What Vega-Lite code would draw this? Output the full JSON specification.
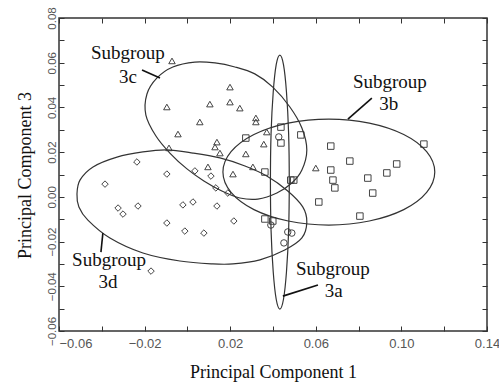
{
  "$schema": "https://vega.github.io/schema/vega-lite/v6.json",
  "width": 428,
  "height": 313,
  "autosize": {"type": "none"},
  "padding": {"left": 59, "top": 18, "right": 12, "bottom": 52},
  "background": "white",
  "config": {
    "view": {"stroke": "#333", "strokeWidth": 1.5},
    "axis": {"grid": false, "domain": false, "tickColor": "#333", "tickWidth": 1}
  },
  "datasets": {
    "pts": [
      {"g":"3c","x":-0.0072,"y":0.0608},{"g":"3c","x":0.0199,"y":0.0491},{"g":"3c","x":0.0105,"y":0.0415},{"g":"3c","x":0.0199,"y":0.0424},{"g":"3c","x":0.0245,"y":0.0397},{"g":"3c","x":-0.0096,"y":0.0402},{"g":"3c","x":0.0058,"y":0.0335},{"g":"3c","x":-0.0044,"y":0.0281},{"g":"3c","x":0.0138,"y":0.0245},{"g":"3c","x":0.0129,"y":0.0223},{"g":"3c","x":0.0152,"y":0.0196},{"g":"3c","x":-0.0086,"y":0.0219},{"g":"3c","x":0.0096,"y":0.0134},{"g":"3c","x":0.0213,"y":0.0102},{"g":"3c","x":0.0320,"y":0.0353},{"g":"3c","x":0.0320,"y":0.0335},{"g":"3c","x":0.0371,"y":0.0290},{"g":"3c","x":0.0357,"y":0.0236},{"g":"3c","x":0.0273,"y":0.0192},{"g":"3c","x":0.0306,"y":0.0134},{"g":"3c","x":0.0600,"y":0.0129},
      {"g":"3b","x":0.0273,"y":0.0263},{"g":"3b","x":0.0437,"y":0.0312},{"g":"3b","x":0.0437,"y":0.0241},{"g":"3b","x":0.0530,"y":0.0277},{"g":"3b","x":0.0670,"y":0.0227},{"g":"3b","x":0.0759,"y":0.0160},{"g":"3b","x":0.0670,"y":0.0120},{"g":"3b","x":0.0680,"y":0.0075},{"g":"3b","x":0.0689,"y":0.0040},{"g":"3b","x":0.0843,"y":0.0084},{"g":"3b","x":0.0866,"y":0.0017},{"g":"3b","x":0.0932,"y":0.0107},{"g":"3b","x":0.0978,"y":0.0147},{"g":"3b","x":0.1105,"y":0.0236},{"g":"3b","x":0.0362,"y":0.0111},{"g":"3b","x":0.0483,"y":0.0075},{"g":"3b","x":0.0497,"y":0.0075},{"g":"3b","x":0.0614,"y":-0.0023},{"g":"3b","x":0.0806,"y":-0.0086},{"g":"3b","x":0.0362,"y":-0.0099},{"g":"3b","x":0.0399,"y":-0.0108},
      {"g":"3a","x":0.0427,"y":0.0268},{"g":"3a","x":0.0390,"y":-0.0126},{"g":"3a","x":0.0469,"y":-0.0157},{"g":"3a","x":0.0488,"y":-0.0162},{"g":"3a","x":0.0451,"y":-0.0206},
      {"g":"3d","x":-0.0385,"y":0.0057},{"g":"3d","x":-0.0236,"y":0.0156},{"g":"3d","x":-0.0096,"y":0.0102},{"g":"3d","x":0.0035,"y":0.0116},{"g":"3d","x":0.0110,"y":0.0093},{"g":"3d","x":0.0133,"y":0.0040},{"g":"3d","x":0.0189,"y":0.0017},{"g":"3d","x":-0.0324,"y":-0.0050},{"g":"3d","x":-0.0301,"y":-0.0077},{"g":"3d","x":-0.0231,"y":-0.0041},{"g":"3d","x":-0.0021,"y":-0.0036},{"g":"3d","x":0.0026,"y":-0.0023},{"g":"3d","x":0.0138,"y":-0.0041},{"g":"3d","x":-0.0096,"y":-0.0117},{"g":"3d","x":-0.0012,"y":-0.0153},{"g":"3d","x":0.0077,"y":-0.0162},{"g":"3d","x":0.0217,"y":-0.0108},{"g":"3d","x":-0.0170,"y":-0.0332}
    ],
    "ell": [
      {"e":"a","i":0,"x":0.0476,"y":0.0066},{"e":"a","i":1,"x":0.0473,"y":-0.0151},{"e":"a","i":2,"x":0.0463,"y":-0.0335},{"e":"a","i":3,"x":0.0449,"y":-0.0458},{"e":"a","i":4,"x":0.0432,"y":-0.0502},{"e":"a","i":5,"x":0.0415,"y":-0.0458},{"e":"a","i":6,"x":0.0401,"y":-0.0335},{"e":"a","i":7,"x":0.0391,"y":-0.0151},{"e":"a","i":8,"x":0.0388,"y":0.0066},{"e":"a","i":9,"x":0.0391,"y":0.0284},{"e":"a","i":10,"x":0.0401,"y":0.0468},{"e":"a","i":11,"x":0.0415,"y":0.0591},{"e":"a","i":12,"x":0.0432,"y":0.0634},{"e":"a","i":13,"x":0.0449,"y":0.0591},{"e":"a","i":14,"x":0.0463,"y":0.0468},{"e":"a","i":15,"x":0.0473,"y":0.0284},
      {"e":"b","i":0,"x":0.1156,"y":0.0111},{"e":"b","i":1,"x":0.1118,"y":0.0020},{"e":"b","i":2,"x":0.1011,"y":-0.0057},{"e":"b","i":3,"x":0.0850,"y":-0.0108},{"e":"b","i":4,"x":0.0661,"y":-0.0126},{"e":"b","i":5,"x":0.0471,"y":-0.0108},{"e":"b","i":6,"x":0.0311,"y":-0.0057},{"e":"b","i":7,"x":0.0204,"y":0.0020},{"e":"b","i":8,"x":0.0166,"y":0.0111},{"e":"b","i":9,"x":0.0204,"y":0.0202},{"e":"b","i":10,"x":0.0311,"y":0.0279},{"e":"b","i":11,"x":0.0471,"y":0.0330},{"e":"b","i":12,"x":0.0661,"y":0.0348},{"e":"b","i":13,"x":0.0850,"y":0.0330},{"e":"b","i":14,"x":0.1011,"y":0.0279},{"e":"b","i":15,"x":0.1118,"y":0.0202},
      {"e":"c","i":0,"x":-0.0142,"y":0.0532},{"e":"c","i":1,"x":-0.0068,"y":0.0581},{"e":"c","i":2,"x":0.0035,"y":0.0603},{"e":"c","i":3,"x":0.0129,"y":0.0599},{"e":"c","i":4,"x":0.0222,"y":0.0581},{"e":"c","i":5,"x":0.0315,"y":0.0550},{"e":"c","i":6,"x":0.0399,"y":0.0491},{"e":"c","i":7,"x":0.0479,"y":0.0402},{"e":"c","i":8,"x":0.0535,"y":0.0308},{"e":"c","i":9,"x":0.0558,"y":0.0210},{"e":"c","i":10,"x":0.0535,"y":0.0120},{"e":"c","i":11,"x":0.0488,"y":0.0062},{"e":"c","i":12,"x":0.0418,"y":0.0017},{"e":"c","i":13,"x":0.0329,"y":-0.0010},{"e":"c","i":14,"x":0.0245,"y":-0.0005},{"e":"c","i":15,"x":0.0161,"y":0.0026},{"e":"c","i":16,"x":0.0077,"y":0.0071},{"e":"c","i":17,"x":-0.0002,"y":0.0125},{"e":"c","i":18,"x":-0.0082,"y":0.0196},{"e":"c","i":19,"x":-0.0147,"y":0.0272},{"e":"c","i":20,"x":-0.0194,"y":0.0366},{"e":"c","i":21,"x":-0.0189,"y":0.0460},
      {"e":"d","i":0,"x":-0.0516,"y":0.0013},{"e":"d","i":1,"x":-0.0502,"y":0.0075},{"e":"d","i":2,"x":-0.0441,"y":0.0134},{"e":"d","i":3,"x":-0.0329,"y":0.0178},{"e":"d","i":4,"x":-0.0208,"y":0.0201},{"e":"d","i":5,"x":-0.0096,"y":0.0210},{"e":"d","i":6,"x":0.0026,"y":0.0196},{"e":"d","i":7,"x":0.0152,"y":0.0174},{"e":"d","i":8,"x":0.0269,"y":0.0138},{"e":"d","i":9,"x":0.0371,"y":0.0093},{"e":"d","i":10,"x":0.0469,"y":0.0026},{"e":"d","i":11,"x":0.0539,"y":-0.0045},{"e":"d","i":12,"x":0.0558,"y":-0.0113},{"e":"d","i":13,"x":0.0535,"y":-0.0184},{"e":"d","i":14,"x":0.0455,"y":-0.0238},{"e":"d","i":15,"x":0.0339,"y":-0.0282},{"e":"d","i":16,"x":0.0213,"y":-0.0300},{"e":"d","i":17,"x":0.0119,"y":-0.0300},{"e":"d","i":18,"x":-0.0035,"y":-0.0287},{"e":"d","i":19,"x":-0.0208,"y":-0.0251},{"e":"d","i":20,"x":-0.0362,"y":-0.0184},{"e":"d","i":21,"x":-0.0465,"y":-0.0104},{"e":"d","i":22,"x":-0.0507,"y":-0.0045}
    ],
    "lead": [
      {"x":-0.0212,"y":0.0567,"x2":-0.0128,"y2":0.0532},
      {"x":0.0862,"y":0.0442,"x2":0.0750,"y2":0.0348},
      {"x":-0.0395,"y":-0.0162,"x2":-0.0404,"y2":-0.0247},
      {"x":0.0610,"y":-0.0394,"x2":0.0446,"y2":-0.0444}
    ],
    "lab": [
      {"t":"Subgroup","x":-0.0278,"y":0.0617},{"t":"3c","x":-0.0278,"y":0.0509},
      {"t":"Subgroup","x":0.0946,"y":0.0487},{"t":"3b","x":0.0941,"y":0.0388},
      {"t":"Subgroup","x":-0.0366,"y":-0.0309},{"t":"3d","x":-0.0371,"y":-0.0408},
      {"t":"Subgroup","x":0.0680,"y":-0.0350},{"t":"3a","x":0.0684,"y":-0.0448}
    ]
  },
  "resolve": {"axis": {"x": "independent", "y": "independent"}},
  "layer": [
    {
      "data": {"name": "pts"},
      "mark": {"type": "point", "filled": false, "strokeWidth": 1, "size": 42, "color": "#444", "opacity": 1},
      "encoding": {
        "x": {"field": "x", "type": "quantitative",
          "scale": {"domain": [-0.06, 0.14], "nice": false, "zero": false},
          "axis": {"orient": "bottom", "values": [-0.06,-0.04,-0.02,0,0.02,0.04,0.06,0.08,0.1,0.12,0.14],
            "format": ".2f", "labelExpr": "abs(round(datum.value*100)) % 4 == 2 ? datum.label : ''",
            "tickSize": -5, "labelPadding": 21, "labelBaseline": "alphabetic",
            "labelFont": "Liberation Sans", "labelFontSize": 13, "labelColor": "#555", "labelFlush": false,
            "labelAlign": {"condition": {"test": "datum.value < -0.059", "value": "left"}, "value": "center"},
            "title": "Principal Component 1", "titleFont": "Liberation Serif", "titleFontSize": 18,
            "titleFontWeight": "normal", "titleColor": "#111", "titleX": 214, "titleY": 46,
            "titleAlign": "center", "titleBaseline": "alphabetic"}},
        "y": {"field": "y", "type": "quantitative",
          "scale": {"domain": [-0.06, 0.08], "nice": false, "zero": false},
          "axis": {"orient": "left", "values": [-0.06,-0.05,-0.04,-0.03,-0.02,-0.01,0,0.01,0.02,0.03,0.04,0.05,0.06,0.07,0.08],
            "format": ".2f", "labelExpr": "round(datum.value*100) % 2 == 0 ? datum.label : ''",
            "tickSize": -5, "labelPadding": 9, "labelAngle": 270, "labelAlign": "center", "labelBaseline": "alphabetic",
            "labelFont": "Liberation Sans", "labelFontSize": 11.5, "labelColor": "#555",
            "title": "Principal Component 3", "titleFont": "Liberation Serif", "titleFontSize": 18,
            "titleFontWeight": "normal", "titleColor": "#111", "titleX": -29, "titleY": 157,
            "titleAngle": 270, "titleAlign": "center", "titleBaseline": "alphabetic"}},
        "shape": {"field": "g", "type": "nominal",
          "scale": {"domain": ["3a","3b","3c","3d"], "range": ["circle","square","triangle-up","diamond"]},
          "legend": null}
      }
    },
    {
      "data": {"name": "ell"},
      "mark": {"type": "line", "interpolate": "cardinal-closed", "stroke": "#333", "strokeWidth": 1.2},
      "encoding": {
        "x": {"field": "x", "type": "quantitative",
          "axis": {"orient": "top", "values": [-0.06,-0.04,-0.02,0,0.02,0.04,0.06,0.08,0.1,0.12,0.14],
            "labels": false, "title": null, "tickSize": -5}},
        "y": {"field": "y", "type": "quantitative",
          "axis": {"orient": "right", "values": [-0.06,-0.05,-0.04,-0.03,-0.02,-0.01,0,0.01,0.02,0.03,0.04,0.05,0.06,0.07,0.08],
            "labels": false, "title": null, "tickSize": -5}},
        "detail": {"field": "e"},
        "order": {"field": "i", "type": "quantitative"}
      }
    },
    {
      "data": {"name": "lead"},
      "mark": {"type": "rule", "stroke": "#111", "strokeWidth": 1.6},
      "encoding": {
        "x": {"field": "x", "type": "quantitative", "axis": null},
        "y": {"field": "y", "type": "quantitative", "axis": null},
        "x2": {"field": "x2"},
        "y2": {"field": "y2"}
      }
    },
    {
      "data": {"name": "lab"},
      "mark": {"type": "text", "font": "Liberation Serif", "fontSize": 19, "align": "center", "baseline": "alphabetic", "color": "#111"},
      "encoding": {
        "x": {"field": "x", "type": "quantitative", "axis": null},
        "y": {"field": "y", "type": "quantitative", "axis": null},
        "text": {"field": "t"}
      }
    }
  ]
}
